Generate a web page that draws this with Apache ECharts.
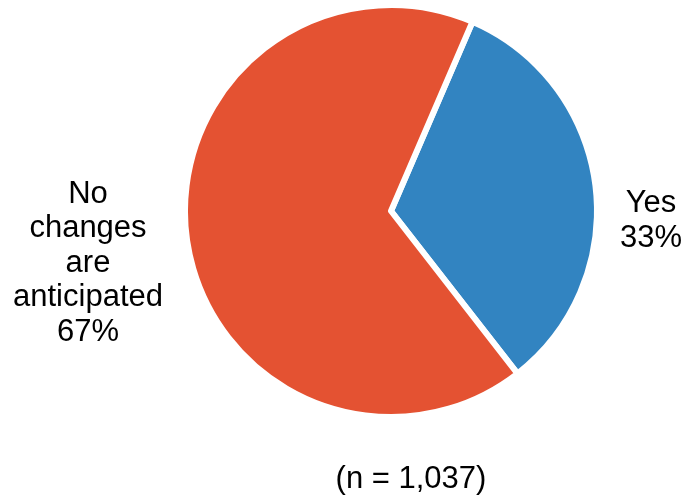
<!DOCTYPE html>
<html>
<head>
<meta charset="utf-8">
<script src="https://cdn.jsdelivr.net/npm/echarts@6/dist/echarts.min.js"></script>
<style>
  html, body { margin: 0; padding: 0; background: #fff; }
  #chart { width: 685px; height: 497px; }
</style>
</head>
<body>
<div id="chart"></div>
<script>
// Survey answers and their shares (percent)
const categories = ['Yes', 'No\nchanges\nare\nanticipated'];
const values = [33, 67];
const colors = ['#3284C1', '#E45232'];
const sampleNote = '(n = 1,037)';

// Label anchor points for each slice
const labelSpots = [
  { x: 651, y: 221 },
  { x: 88, y: 263 }
];

const FONT = '"Liberation Sans", Arial, sans-serif';

const chart = echarts.init(document.getElementById('chart'));
chart.setOption({
  animation: false,
  backgroundColor: '#fff',
  graphic: [{
    type: 'text',
    x: 411,
    y: 479,
    style: {
      text: sampleNote,
      align: 'center',
      verticalAlign: 'middle',
      font: '31px ' + FONT,
      fill: '#000'
    }
  }],
  series: [{
    type: 'pie',
    center: [391, 211],
    radius: [0, 206],
    startAngle: 66.7,
    clockwise: true,
    silent: true,
    data: categories.map((name, i) => ({
      name: name,
      value: values[i],
      itemStyle: { color: colors[i] }
    })),
    itemStyle: { borderColor: '#fff', borderWidth: 6 },
    label: {
      show: true,
      position: 'outside',
      formatter: p => p.name + '\n' + p.value + '%',
      fontFamily: FONT,
      fontSize: 31,
      lineHeight: 34.5,
      color: '#000',
      align: 'center',
      overflow: 'none',
      width: 300
    },
    labelLine: { show: false },
    labelLayout: function (params) {
      const s = labelSpots[params.dataIndex];
      return { x: s.x, y: s.y, align: 'center', verticalAlign: 'middle' };
    }
  }]
});
</script>
</body>
</html>
